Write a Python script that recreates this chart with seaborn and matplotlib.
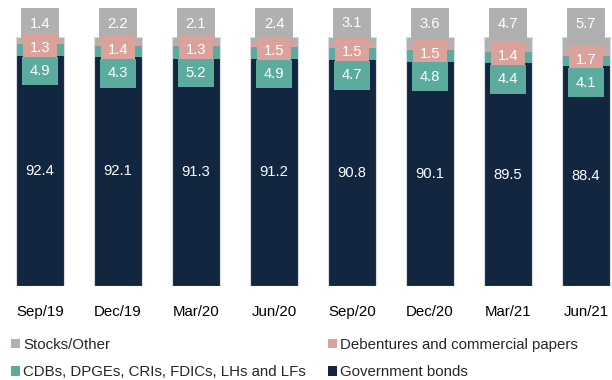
import numpy as np
import pandas as pd
import matplotlib
matplotlib.use("Agg")
import matplotlib.pyplot as plt
from matplotlib.patches import Patch
import seaborn as sns

# Portfolio composition (% of total) by quarter
periods = ["Sep/19", "Dec/19", "Mar/20", "Jun/20", "Sep/20", "Dec/20", "Mar/21", "Jun/21"]
gov_bonds = [92.4, 92.1, 91.3, 91.2, 90.8, 90.1, 89.5, 88.4]
cdbs = [4.9, 4.3, 5.2, 4.9, 4.7, 4.8, 4.4, 4.1]
debentures = [1.3, 1.4, 1.3, 1.5, 1.5, 1.5, 1.4, 1.7]
stocks = [1.4, 2.2, 2.1, 2.4, 3.1, 3.6, 4.7, 5.7]

series_names = ["Government bonds", "CDBs, DPGEs, CRIs, FDICs, LHs and LFs",
                "Debentures and commercial papers", "Stocks/Other"]
colors = {
    "Government bonds": "#12263f",
    "CDBs, DPGEs, CRIs, FDICs, LHs and LFs": "#5bac9e",
    "Debentures and commercial papers": "#dba19b",
    "Stocks/Other": "#b0b0b0",
}

df = pd.DataFrame({
    "period": periods,
    "Government bonds": gov_bonds,
    "CDBs, DPGEs, CRIs, FDICs, LHs and LFs": cdbs,
    "Debentures and commercial papers": debentures,
    "Stocks/Other": stocks,
})
cum = df[series_names].cumsum(axis=1)

sns.set_theme(style="white")
plt.rcParams["font.family"] = ["Liberation Sans", "DejaVu Sans"]

fig = plt.figure(figsize=(6.12, 3.80), dpi=100)
ax = fig.add_axes([0.0, 94 / 380, 1.0, 286 / 380])

BAR_W = 0.62
# Stacked bars: draw cumulative totals from the top layer down
for name in reversed(series_names):
    sns.barplot(x=df["period"], y=cum[name], color=colors[name], width=BAR_W,
                saturation=1, linewidth=0, errorbar=None, ax=ax)
# Thin light outline around each full bar
sns.barplot(x=df["period"], y=cum[series_names[-1]], color="#d9dde3", width=BAR_W,
            fill=False, linewidth=0.8, errorbar=None, ax=ax)

ax.set_xlim(-40 / 78, (612 - 40) / 78)
ax.set_ylim(0, 286 / 2.49)
ax.set_xlabel("")
ax.set_ylabel("")
ax.set_yticks([])
for s in ax.spines.values():
    s.set_visible(False)
ax.tick_params(axis="x", length=0, pad=14, labelsize=10.8, colors="#000000")

val_fs = 10.6
def boxed(x, y, text, fc, dy, pad):
    ax.annotate(text, (x, y), xytext=(0, dy), textcoords="offset points",
                ha="center", va="center", fontsize=val_fs, color="white",
                bbox=dict(boxstyle=f"square,pad={pad}", fc=fc, ec="none"), zorder=5)

for i in range(len(periods)):
    top = cum.loc[i, "Stocks/Other"]
    pink_mid = cum.loc[i, "CDBs, DPGEs, CRIs, FDICs, LHs and LFs"] + debentures[i] / 2
    boxed(i, top, f"{stocks[i]:.1f}", colors["Stocks/Other"], 9.6, 0.58)
    boxed(i, pink_mid, f"{debentures[i]:.1f}", colors["Debentures and commercial papers"], -4.3, 0.48)
    boxed(i, pink_mid, f"{cdbs[i]:.1f}", colors["CDBs, DPGEs, CRIs, FDICs, LHs and LFs"], -20.9, 0.5)
    ax.text(i, gov_bonds[i] / 2, f"{gov_bonds[i]:.1f}", ha="center", va="center",
            fontsize=val_fs, color="white", zorder=5)

def legend_col(names, x_px):
    handles = [Patch(facecolor=colors[n], edgecolor="none") for n in names]
    lg = fig.legend(handles, names, loc="upper left",
                    bbox_to_anchor=(x_px / 612, 1 - 338 / 380),
                    frameon=False, fontsize=10.8, handlelength=0.6, handleheight=0.6,
                    handletextpad=0.2, labelspacing=0.9, borderpad=0, borderaxespad=0)
    return lg

legend_col(["Stocks/Other", "CDBs, DPGEs, CRIs, FDICs, LHs and LFs"], 11)
legend_col(["Debentures and commercial papers", "Government bonds"], 328)

fig.savefig("out.png", dpi=100)
